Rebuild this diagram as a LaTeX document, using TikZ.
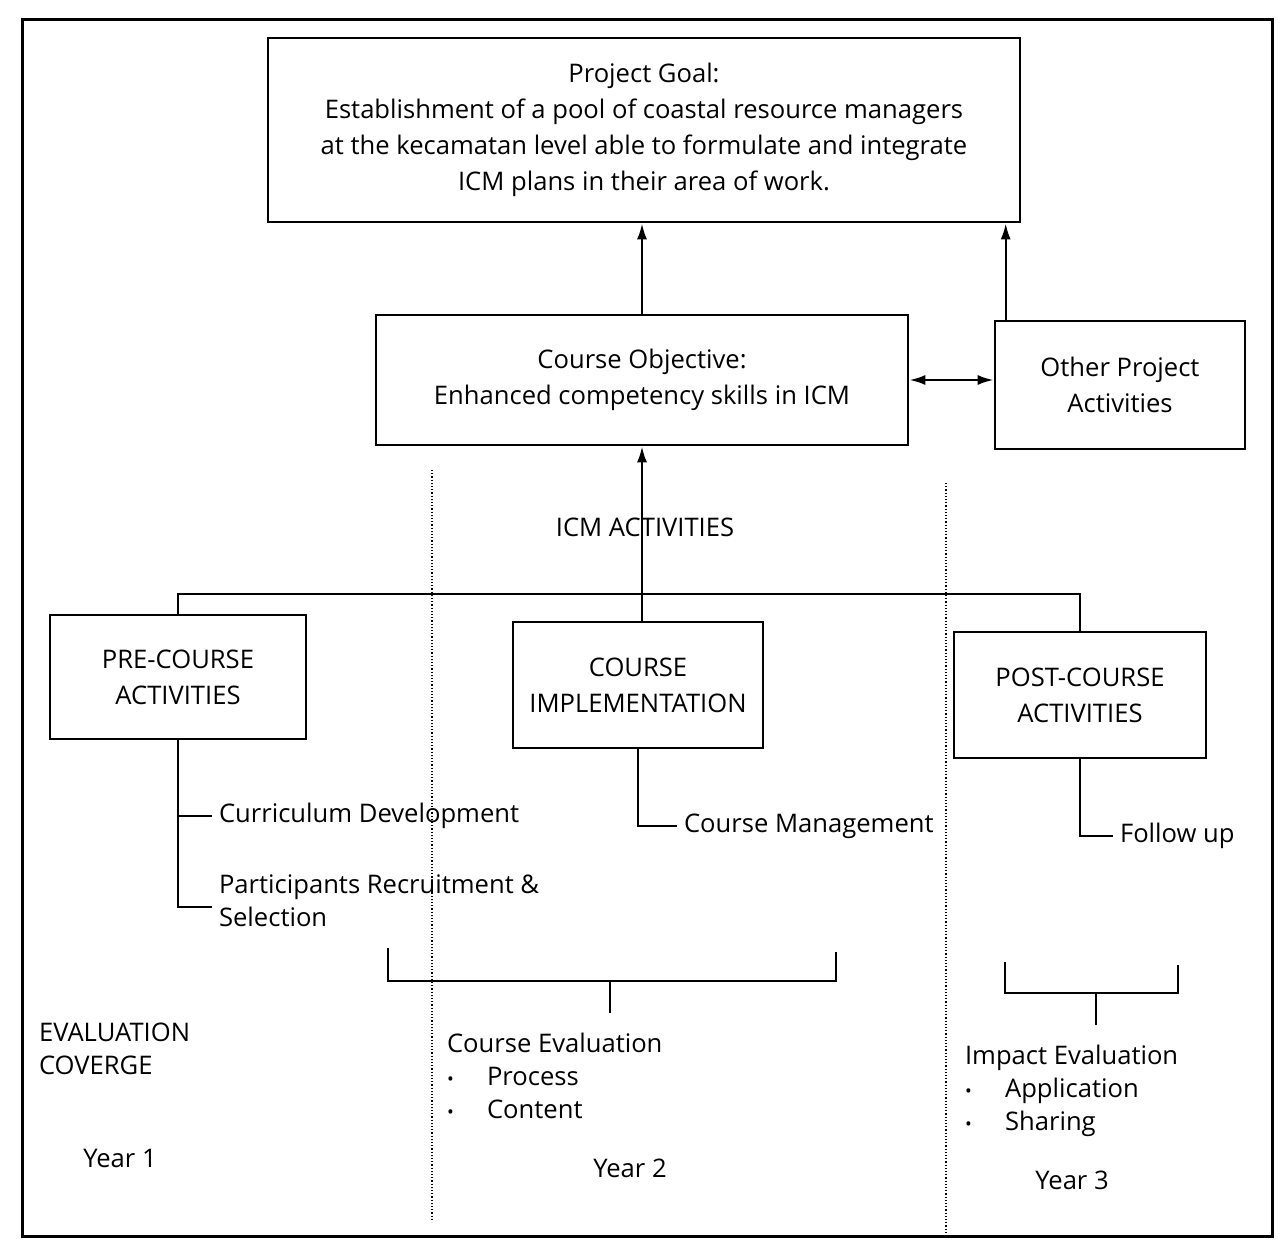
\documentclass[tikz,border=0pt]{standalone}
\usepackage{fontspec}
\setmainfont{Open Sans}
\usepackage{tikz}
\usetikzlibrary{positioning, arrows.meta}
\tikzset{
	layer/.append style={
		draw,
		line width=1.3pt,
		align=center,
		font={\fontsize{12.8}{18}\selectfont},
	},
	labe/.append style={
		align=left,
		font={\fontsize{12.8}{16.5}\selectfont},
	},
	link/.append style={
		line width=1.2pt,
	},
	guide/.append style={
		densely dotted,
		line width=0.6pt,
	},
}
\newcommand{\itembullet}[1]{\makebox[20pt][l]{\small\textbullet}#1}

\begin{document}
\begin{tikzpicture}[x=0.5pt, y=-0.5pt, >={Latex[length=8pt,width=5pt]}]
\useasboundingbox (0,0) rectangle (1281,1252);
\draw[line width=1.5pt] (22,20) rectangle (1272,1236);

% top level
\node(goal)[layer, minimum width=376pt, minimum height=92pt] at (644,130)
	{Project Goal:\\Establishment of a pool of coastal resource managers\\at the kecamatan level able to formulate and integrate\\ICM plans in their area of work.};
\node(obj)[layer, minimum width=266pt, minimum height=65pt] at (642,380)
	{Course Objective:\\Enhanced competency skills in ICM};
\node(other)[layer, minimum width=125pt, minimum height=64pt] at (1120,385)
	{Other Project\\Activities};

\draw[->, link] (obj.north) -- (obj.north |- goal.south);
\coordinate(otherup) at ([xshift=6pt]other.north west);
\draw[->, link] (otherup) -- (otherup |- goal.south);
\draw[<->, link] (obj.east) -- (obj.east -| other.west);

% activities
\node(pre)[layer, minimum width=128pt, minimum height=62pt] at (178,677) {PRE-COURSE\\ACTIVITIES};
\node(impl)[layer, minimum width=125pt, minimum height=63pt] at (638,685) {COURSE\\IMPLEMENTATION};
\node(post)[layer, minimum width=126pt, minimum height=63pt] at (1080,695) {POST-COURSE\\ACTIVITIES};

\node(icm)[labe] at (645,527) {ICM ACTIVITIES};
\coordinate(up) at (642,622);
\draw[->, link] (up) -- (up |- obj.south);
\coordinate(bus) at (600,594);
\draw[link] (pre.north) -- (pre.north |- bus) -- (post.north |- bus) -- (post.north);

\node(cur)[labe, anchor=west] at (212,816) {Curriculum Development};
\node(part)[labe, anchor=west] at (212,901) {Participants Recruitment \&\\Selection};
\node(mgmt)[labe, anchor=west] at (677,826) {Course Management};
\node(fol)[labe, anchor=west] at (1113,836) {Follow up};

\draw[link] (pre.south) |- (cur.west);
\draw[link] (pre.south) |- ([yshift=-3pt]part.west);
\draw[link] (impl.south) |- (mgmt.west);
\draw[link] (post.south) |- (fol.west);

% years
\draw[guide] (432,470) -- (432,1222);
\draw[guide] (946,483) -- (946,1234);

\coordinate(br1) at (610,981);
\coordinate(br2) at (1096,993);
\draw[link] (388,948) |- (836,981) -- (836,952);
\draw[link] (br1) -- ++(0,32);
\draw[link] (1005,962) |- (1178,993) -- (1178,965);
\draw[link] (br2) -- ++(0,32);

\node(cov)[labe, anchor=north west] at (32,1016) {EVALUATION\\COVERGE};
\node(ceval)[labe, anchor=north west] at (440,1026)
	{Course Evaluation\\\itembullet{Process}\\\itembullet{Content}};
\node(ieval)[labe, anchor=north west] at (958,1038)
	{Impact Evaluation\\\itembullet{Application}\\\itembullet{Sharing}};

\node(y1)[labe] at (120,1158) {Year 1};
\node(y2)[labe] at (630,1168) {Year 2};
\node(y3)[labe] at (1072,1180) {Year 3};
\end{tikzpicture}
\end{document}
